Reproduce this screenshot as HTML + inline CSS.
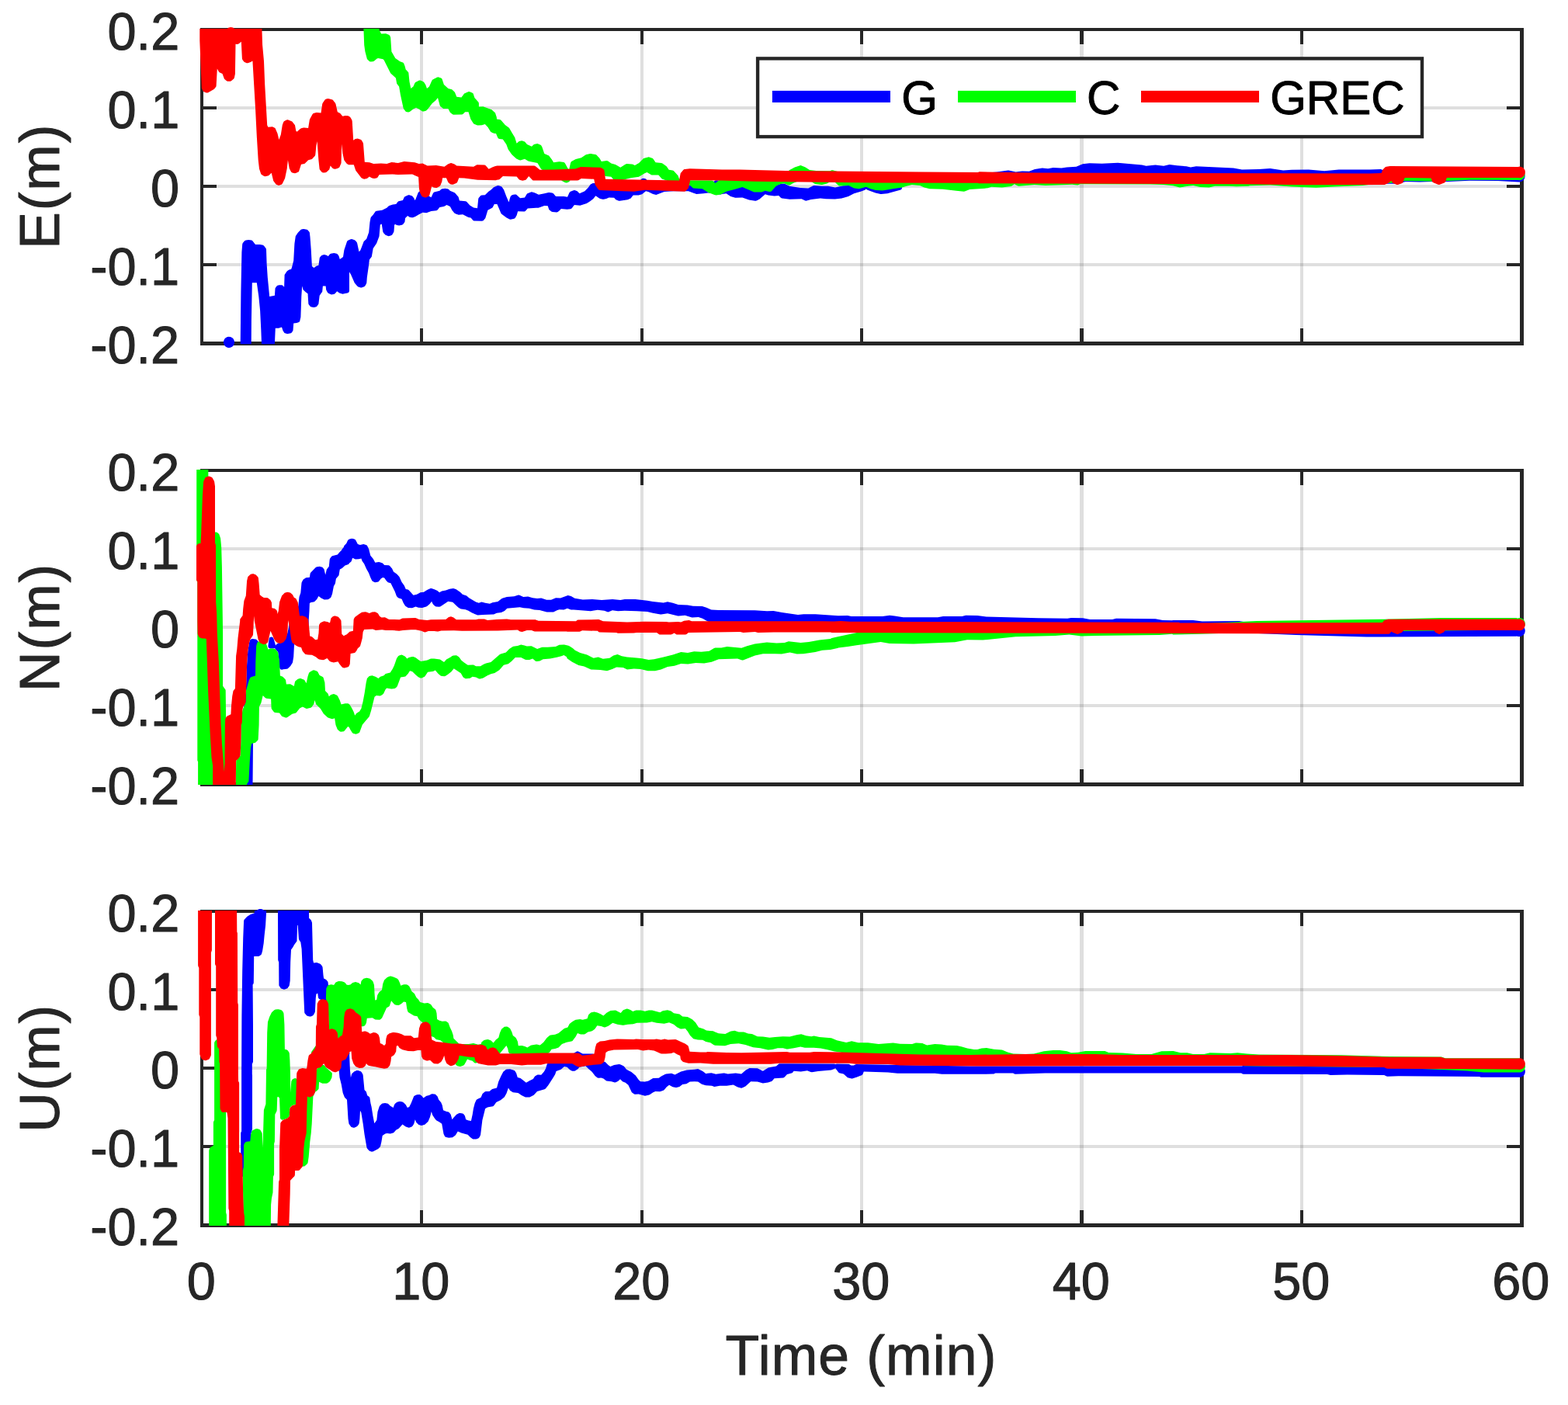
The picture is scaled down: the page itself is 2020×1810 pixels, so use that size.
<!DOCTYPE html>
<html lang="en"><head><meta charset="utf-8"><title>Positioning error convergence: E, N, U (G / C / GREC)</title>
<style>
html,body{margin:0;padding:0;background:#fff;}
body{width:2020px;height:1810px;overflow:hidden;}
svg{display:block;}
text{font-family:"Liberation Sans",Arial,Helvetica,sans-serif;fill:#262626;stroke:#262626;stroke-width:1.0px;stroke-linejoin:round;}
.tk{font-size:66.67px;}
.lb{font-size:71.50px;letter-spacing:1.1px;}
.lg{font-size:60.00px;fill:#000;stroke:#000;}
.grid{fill:#262626;fill-opacity:0.15;stroke:none;}
.frame{fill:#262626;stroke:none;}
.tick{fill:#262626;stroke:none;}
.b{fill:#0000ff;stroke:#0000ff;}.g{fill:#00ff00;stroke:#00ff00;}.r{fill:#ff0000;stroke:#ff0000;}
.c path{stroke:none;}
</style></head><body>
<svg width="2020" height="1810" viewBox="0 0 2020 1810">
<rect x="0" y="0" width="2020" height="1810" fill="#ffffff"/>
<g id="plot1">
<path class="grid" d="M541 40h4V440h-4ZM825 40h4V440h-4ZM1108 40h4V440h-4ZM1391 40h5V440h-5ZM1675 40h4V440h-4Z"/>
<path class="grid" d="M262 137H1958v4H262ZM262 238H1958v4H262ZM262 339H1958v4H262Z"/>
<path class="frame" fill-rule="evenodd" d="M258 36H1963V445H258ZM262 40V440H1958V40Z"/>
<path class="tick" d="M541 40h4v17h-4ZM541 440h4v-17h-4ZM825 40h4v17h-4ZM825 440h4v-17h-4ZM1108 40h4v17h-4ZM1108 440h4v-17h-4ZM1391 40h5v17h-5ZM1391 440h5v-17h-5ZM1675 40h4v17h-4ZM1675 440h4v-17h-4ZM262 137v4h17v-4ZM1958 137v4h-17v-4ZM262 238v4h17v-4ZM1958 238v4h-17v-4ZM262 339v4h17v-4ZM1958 339v4h-17v-4Z"/>
<g class="c b">
<path fill-rule="evenodd" d="M1298.5 219.6L1284.2 221.6L1262.1 223.3L1260.8 224.1L1260.1 225.4L1260.1 233.2L1260.4 233.9L1261.5 235L1263 235.4L1599.9 235.4L1601 236.4L1602.5 236.8L1801.1 236.8L1810.7 234L1828.9 234.6L1843.7 234L1865.5 234L1893.1 232.8L1929.7 233.1L1957.2 234.4L1958.2 234.3L1960 233.8L1960.9 233.4L1962.4 232.3L1963 231.5L1964 229.9L1964.5 228L1964.5 227.1L1964.5 226.1L1964 224.3L1963 222.6L1962.4 221.9L1960.9 220.7L1960 220.3L1958.2 219.8L1957.2 219.8L1955.3 220L1954.4 220.3L1952.8 221.2L1783.3 222.1L1780.9 218.9L1780.2 218.5L1778.8 218.1L1764.8 218.5L1724.7 218.5L1706.2 220.3L1685.9 218.5L1664.2 218.8L1653.1 219.4L1636.3 217L1621.9 218.1L1600 218.5L1589 216.4L1541 214.3L1533.8 215.5L1528.4 214.3L1516.5 213.3L1506.6 212.1L1505.5 212.2L1499.1 213.8L1488.4 212.4L1476.6 213.8L1471.1 212.4L1440 209.8L1419.5 210.7L1403.6 210.3L1394.8 211.3L1386.5 214.7L1374.4 215.5L1367.4 216.4L1356.7 216.1L1350.1 217.3L1342.7 216.5L1333.1 218.1L1325.8 220.7L1316.9 220.4L1308.5 221.6L1299.5 219.6ZM330.8 364.3L333.3 382L335.1 400.1L336.3 424.5L337 443.3L353.9 443.3L354.8 422.7L358.9 422.7L363 421.4L364.5 426.1L366.5 428.9L368 429.6L369.9 429.9L370.8 429.9L374.7 429.3L375.4 428.8L376 428.2L377.5 425.7L378.2 416.6L382.2 416L384.5 415.3L385.8 414.4L386.2 413.8L387.4 408.4L388.3 382L389.2 368.6L390.5 373.3L394 376.4L396.5 378.3L397.3 390.8L397.4 391.6L397.9 392.4L399.9 394.9L401.3 395.5L404.2 395.9L406.7 395.5L408.2 394.8L410.4 391.6L411.7 380.7L415.2 375.8L415.9 368.6L419.6 368.6L420.2 373.4L422.1 376.9L422.7 377.6L423.4 378.1L426.9 379.6L430.1 379.1L431.3 378.6L434.2 375.3L437.2 377.6L441.4 378.8L446.2 377.7L447.7 377.6L449.1 376.8L449.8 375.5L450 374.7L450 350.3L452.2 354.1L456.8 364.5L460.2 368.6L461.4 369.4L464.6 370.6L465.9 370.4L469.3 369.2L470.4 368.2L471.9 365.5L472.3 364.3L472.8 357.6L475.2 340.7L475.9 334.5L478.8 330.8L480.7 319.9L485.1 313.5L488.5 304.5L489.8 289.6L491.7 288.4L493.3 298.5L494 299.9L496.6 302.8L499.8 304.1L500.4 304.2L501.7 304.1L504 303.3L505.2 302.5L507.1 299.3L507.5 298L508.1 289.6L509.3 289L511.2 289.9L512.3 290.2L514.3 290.4L517.8 289.8L519.2 289.1L521.4 285.9L522.1 281.1L525.1 278L527.6 279.8L530.4 280.3L531.9 280.2L535.1 279L539.7 276.2L544.5 273.8L549.4 274.3L555.5 271.9L562.3 271.3L563.6 270.4L566.4 267.1L572 266L572.9 265.6L575.5 264L579.8 265.9L582.5 271L585.4 274.4L586.6 275.2L590.7 276.7L596.2 276.2L602.4 279.6L603.4 279.9L606.5 280.4L609.3 283.7L609.9 284.2L610.7 284.6L620.9 284.7L621.8 284.6L622.6 284.2L625.3 281L628.4 270.7L633.6 268.1L634.4 267.6L634.9 266.8L636.8 263.1L640.4 263.1L642.6 267.9L645.3 274.5L646.2 275.8L652.6 280.6L656.5 282.5L657.8 282.8L662.2 281.8L663.6 281L665.7 277.2L667.1 272.3L675.5 272.6L676.3 272.2L677 271.7L679.8 268.6L690.8 267.8L693.3 267.8L694.4 267.6L701.3 264.9L705.7 265.2L707.3 270L710.3 272.5L711.8 273.1L717.2 273.6L718.6 273L721.1 271L722.8 269L730.6 269.7L735 269.2L735.7 269L736.9 268L739.9 264.1L747.3 264.8L755.9 262L760.6 259L764.2 256.2L767.4 252.2L772.1 255.6L773.2 256.1L776.4 256.8L777.7 256.8L781.1 256L784.5 254.5L791.1 254.8L793.4 257.3L797.2 258.7L798.5 258.8L808.6 257.3L812.6 255.6L815.7 251.5L822.6 251.5L823.5 251.3L827 250.2L828 249.6L832 246.3L835 247L841.2 250.1L845.3 250.9L855.8 247L867.7 246.3L886.9 246.3L892.9 248.5L897.3 249.9L906.2 249.3L912.2 248.5L920 249.3L920.9 250.4L921.6 250.8L923.1 251L927.4 250.4L928.7 250.5L930.1 250L935.6 249.3L941.2 252.9L947.2 254.7L948.2 254.8L956.4 254.5L964.8 257.5L972.8 258.7L973.7 258.7L974.6 258.4L978.6 256.4L985.8 250.2L989.6 251.4L997.6 252.4L1003.2 251.9L1005.9 254.7L1006.7 255.2L1007.6 255.5L1017.3 256.8L1032.6 256.2L1036.8 258.3L1038.2 258.7L1044.8 257.1L1056.9 255.4L1064 256.2L1075.7 256.6L1084.4 255.4L1093 252.9L1100.2 249.3L1108.8 246.7L1114.2 244.7L1115.4 243.9L1115.8 243.1L1116.3 243.9L1117.6 244.7L1127.8 248.4L1134.4 250.1L1135.4 250.1L1143.2 249.3L1152.2 246.7L1160.5 244.5L1161.6 243.4L1161.9 242.7L1161.9 241.2L1161.6 240.4L1160.5 239.3L1159 238.9L1118.6 238.9L1117.1 239.3L1116.5 239.7L1115.8 240.7L1115.2 239.7L1114.6 239.3L1113.1 238.9L1093.2 238.9L1086.1 239.3L1076 241.5L1067 239.8L1058.6 239.8L1049.1 239L1047.5 239.3L1041.3 242.4L1031 242L1017 239.8L1011 236.8L1010.1 236.5L1005.1 237.1L999.6 238.9L922.8 232.2L921.2 232.5L919.9 233.7L888.8 233.8L887.6 234.4L882.5 238.9L836.5 238.1L832.9 231.2L831.5 230.3L829 229.8L827.3 230.1L825.9 230.9L821.6 238.1L772.7 238.9L767.4 236L763.7 236L760.8 237.5L757.7 241.8L753.3 246.3L746.6 249.3L743.6 246.3L740.3 245.1L738.8 245.2L734.4 247L733.5 248.2L731 253.7L726.3 253L716.1 253L712.6 248.9L711.3 248.4L707.8 247.9L706.7 247.9L701.3 249.3L693.9 250.7L689.2 248.5L686 247.4L684.6 247.2L679.4 249.2L678.5 250.2L676 254.5L670.1 255.2L665.2 250.8L664.4 250.5L663.5 250.4L661.3 250.7L659.8 251.3L658.3 252.3L657.5 253.4L655.5 260.4L652.3 253L649.1 244.5L646.9 241.2L646 240.3L642.9 239.2L641.5 239.1L639.3 239.8L636 241.2L632.3 244.7L629.4 246.7L624.8 251.3L620.4 251.4L619.6 251.8L619 252.3L616.9 254.8L616.4 255.6L616.2 256.5L615 268.3L610.1 267.6L605.3 264.6L601.3 260.1L600 259.2L591.9 258.6L590.6 253.7L586.3 248.8L585.2 248L579.8 245.8L578.1 244.1L577.3 243.5L576.4 243.2L573.5 242.8L569.8 243.2L568.9 243.5L568.1 244.1L566.4 245.8L559.3 247.5L558.7 247.9L557.9 249L555.5 254.3L542.8 247L541.3 246.6L540.6 246.6L539.9 246.9L538.8 247.9L535.4 256.7L534.2 258L533.5 255.6L531.1 252.6L527.5 251.3L525.9 251.2L521.2 253.6L520.4 254.7L519 258L513.4 259.2L512.2 260.2L510.5 262.8L506 263.5L501.4 265L500.3 265.8L498.3 267.7L492.3 270.7L485.1 271.7L484.3 272L483.6 272.5L480.7 276.8L478.3 279.2L477.8 279.9L477.5 280.7L476.5 286.1L475.2 299.3L472.2 307.7L468.7 310.9L464.3 322.4L462.5 324.2L460.2 313.4L459.6 312.1L458.1 310.3L456.9 309.3L453.2 308L451.6 308.3L447.8 310.1L446.9 311.5L443.4 322.1L442 330.9L437.8 333.9L436.5 329.7L434.9 327.6L433.7 326.7L430.3 326.1L426.1 326.7L424.9 327.5L422.6 330.3L421.3 329.1L418.7 328.2L417.7 328L416.8 328.2L414.9 328.8L414.2 329.2L413.5 329.8L411.8 332.1L410.4 341.8L407.6 342.7L404.4 344.9L401.9 343L400.7 321.1L399.5 305.3L398.8 299.3L396.6 296.5L395.4 295.7L391.3 295.1L389.2 295.2L387.7 295.7L383.8 299.8L380.8 304.2L379.4 314L378.2 335.8L376.4 343L375.2 346.7L372.4 347.5L369.8 349.2L366.6 354L366.1 369.8L364.5 367.9L363.7 367.4L362.9 367.3L359.5 367.2L357 368.1L356.4 368.7L354.7 371.1L354.5 371.9L353.9 380.7L347.2 381.9L344.8 357.6L343.6 339.4L343 321.5L342.8 320.6L342.4 319.8L340.1 316.7L338.9 315.7L334.9 315.1L329 315.1L325.5 310.6L324.3 309.6L320.1 309.1L316.8 309.5L315.4 310L312.8 313.1L312.4 313.9L312.2 314.8L311.4 324.9L310.4 375.9L309.7 443.3L323.7 443.3L323.9 412.3L324.8 364.3ZM301.8 439.1L301.1 437.4L300.6 436.6L299.3 435.3L298.5 434.8L296.8 434.1L295.9 433.9L295 433.8L293.1 434.1L291.4 434.8L290.7 435.3L289.4 436.6L288.9 437.4L288.2 439.1L288 440L287.9 440.9L288.2 442.7L288.9 444.4L289.4 445.2L290.7 446.5L291.4 447L293.1 447.7L294.1 447.9L295 447.9L296.8 447.7L298.5 447L299.3 446.5L300.6 445.2L301.1 444.4L301.8 442.7L302 441.8L302 440.9Z"/>
</g>
<g class="c g">
<path fill-rule="evenodd" d="M487.3 75L493.5 76.2L494.7 77.4L503 93.9L503.6 94.8L509.9 100.5L511.2 107.7L514.1 111.4L516 122.4L519.5 138.8L519.9 139.9L522.5 143.5L523.2 143.9L524.1 144.2L526.3 144.4L527.8 144.1L532.4 140.6L536 138.8L539.6 140.6L544.2 143.5L545 143.6L545.9 143.5L548.6 142.7L549.3 142.3L550 141.8L553.1 138.1L556.7 133.3L561.4 129.2L564 126L566.7 135.9L567.4 137.1L570.5 139.4L571.3 139.9L572.2 140L577.4 140L579.8 144.8L582.6 147L583.5 147.5L584.4 147.7L595.1 147.6L596.4 146.9L599.2 144.3L603.5 144.3L606.4 153.6L609.7 158.7L610.3 159.4L614.4 161.3L615.7 161.5L620.7 161.3L624.8 160.1L628.4 163.7L632.1 169.7L634.7 171.2L637.4 172L639 172.1L641.2 177.2L642.1 178.4L643.6 178.9L647.8 179.5L652.3 186.1L654.7 192.4L659.5 199.2L665.3 204.4L669.1 206.2L670.5 206.4L676 204.7L680 207.3L681.1 207.8L692.4 209.9L696.6 216.9L697.3 217.7L703.7 222.8L705 223.4L713.2 224.8L724.8 233.5L728.2 235.2L729.5 235.5L730.9 235.2L732.9 234.2L734 233.2L736.9 226.2L748.8 221.8L771.1 220.3L780 226.9L787.4 227.7L789.6 230.4L790.9 231.4L800.3 232.2L801.3 232.1L812.6 229.2L823.1 227.7L830.5 223.3L833.5 222.1L839.4 225.4L848.3 225.5L852.8 230.6L861.8 233.7L874.4 239.3L875.8 239.6L889.2 238.9L892.1 241.8L893.3 242.5L904.8 243.3L912.4 247.9L920.4 251L922.6 251.6L928.5 250.4L935.6 246.7L946.1 244.1L956.4 241L963.4 244.1L971.4 247.4L972.6 247.6L980.2 247.6L981.1 247.4L985.8 245.8L991 247.1L992.6 247.1L994 246.2L999.7 239.8L1004.9 237.2L1010.1 236.3L1015.7 238.4L1016.6 238.6L1017.4 238.5L1022.2 235.8L1027.5 233.7L1044.8 233.7L1050 237.1L1058.1 238L1059.1 237.9L1065.2 236.4L1069 234.6L1075.9 235.1L1080.2 238.9L1081.6 239.6L1093.3 238.9L1099.8 242.2L1100.7 242.4L1106.5 243.2L1107.7 243.1L1115.8 240.7L1121.3 243.3L1128.2 245L1136.9 245.4L1150.4 243.2L1162.3 241.6L1167.8 239.8L1174.7 238.1L1185.1 238.9L1190.6 241.6L1197.6 243.3L1214.6 243.8L1231.9 245.8L1241.6 246.7L1242.9 246.5L1249.2 244.1L1268.8 242.8L1270 242.4L1272.5 242.2L1277.3 240.7L1290.9 241.5L1302.6 239.9L1303.9 239.3L1306.8 237.2L1311.2 239.4L1312.8 239.7L1332.7 238.1L1346.8 238.9L1381.2 237.7L1388.2 238.5L1391.8 237.2L1481.8 237.5L1499.1 238L1511.2 239.3L1519.9 241.4L1530.3 239.8L1537.2 238.9L1546.2 241L1557.6 241.5L1565.1 239.8L1584 239.8L1592.8 240.3L1608.4 239.8L1610.1 239.3L1636.6 238.6L1664.2 240.5L1695.4 241.7L1719.1 240.5L1755.6 239L1764.9 237.7L1801.3 235L1809.8 233.1L1843.6 233.5L1865.6 233.1L1893.1 231.7L1955.9 232.1L1957.2 232.2L1959.1 232L1960.9 231.2L1961.7 230.7L1963 229.3L1963.6 228.5L1964 227.7L1964.5 225.8L1964.5 223.9L1964.3 223L1964 222.1L1963 220.4L1961.7 219.1L1960.9 218.5L1959.1 217.8L1957.2 217.6L1955.3 217.8L1953.5 218.5L1952 219.7L1950.8 221.3L1783.2 224L1610.1 225.7L1609.1 225.2L1608.2 225.1L1262.7 225.1L1261.1 225.5L1259.9 226.7L1093.3 225.1L1072.8 219.2L1071.5 219.3L1069 220.2L1051.8 219.9L1043 219L1037.6 215.4L1032.8 213.4L1031.4 213.1L1023.8 215.6L1017.3 218.9L1013.6 221.6L954.4 225.1L927.5 231.8L926.4 232.3L921.4 236.1L918.4 233.1L916.9 232.6L882.6 232.2L875.1 230.7L873.5 226.3L867.8 219.9L866.5 219.4L861.7 218.8L859 214.8L858.3 214L853.4 210.6L852 210.1L844.6 209.2L841.5 204.7L840.8 204.1L836.6 202.5L835.7 202.3L834.8 202.4L829.1 204.1L823.1 209.9L817.9 212.9L814.6 211.6L813.7 211.4L807.7 211.1L806.8 211.2L805.9 211.6L799.3 215.8L793.8 212.4L792.9 212L787.4 210.6L783.3 207.4L781.7 207.1L774.8 208.1L772.3 203.7L768.3 199.5L767.1 199.1L761.2 198.1L760.2 198.1L754.8 199.3L748.8 203.2L741.8 205.1L736.6 207.8L736 208.3L735.1 209.7L733.2 218.1L731.7 217.3L728 210.5L727.1 209.4L726.5 209.1L721 208.2L720.2 208.2L713.2 209.2L710.9 205.4L707.1 200.4L701.3 198L698.4 189.5L697.3 187.6L696.8 187L696 186.5L692.4 185.1L688.8 185.7L688 186L687.3 186.5L685 188.8L679 186.1L676 182.5L675.2 182.2L672.3 181.3L668.7 182.1L665.6 184.7L663.2 176.9L659.7 171.3L655.9 164.7L650.8 160.9L645.1 154.6L643.8 154.1L640 153.5L639.8 151.1L638 145.5L633.7 141.6L632.7 141L622.3 137.3L616.9 137.6L616.9 133.3L616.5 131.8L611.4 126L609.6 120.5L609 119.9L608.2 119.4L605.3 118.2L603.7 118.1L598.1 120.6L594.4 125.4L588.3 124.8L586.1 119.3L585.4 118.3L582.2 115.2L577.4 113.9L571.9 109.1L569.5 101.7L568.9 101L568.1 100.6L564.4 99.3L562.8 99.7L557.1 102.8L556.3 103.9L553 111.4L550 113.9L548.3 109.3L546.2 106.1L545 105L541.3 103.5L540.5 103.5L539.6 103.7L535.2 105.9L534.4 107L532.4 111.4L529.3 113.9L527.5 105.3L526.3 93.6L525.5 92.4L522.7 89.6L521.5 84.9L520.2 81.8L519.7 81L519 80.4L515.4 79.2L509.3 75L504.4 66.5L503.2 48.7L503 47.8L502.1 45.7L500.8 44.7L497.1 43.2L491.1 43.4L488.6 38.5L488.6 37L468.4 37L469.2 58.1L470.4 66.6L472.9 76.1L473.5 76.8L476.2 79.2L477.8 79.5L480.3 79.3L481.3 79.1L482.1 78.6L485.6 75.6Z"/>
</g>
<g class="c r">
<path fill-rule="evenodd" d="M302.3 37L300.1 35.6L298.3 35.2L297.4 35.1L296.5 35.2L294.7 35.6L292.6 37L257.3 37L257.3 52.5L259.8 113.8L261.6 117.2L262.6 118.2L265.7 119.5L266.6 119.6L267.4 119.6L268.2 119.3L275.1 115.3L275.9 114.7L277.9 112.2L278.4 111.4L278.6 110.4L279.8 88.4L282.1 92.8L283.2 93.6L286.5 95L289 101.7L292.3 104.4L293.6 104.8L297 104.7L298.2 104L300.9 101.8L301.5 101L301.9 100.1L302.9 95.3L303.5 56.7L305.9 56.9L307.4 56.6L310.8 53.7L311.9 75.4L312.4 76.9L314.5 79.8L317.7 81.3L319.3 81.2L322.8 79.9L325.4 78.6L329 139.4L330.8 175.8L332.7 206.2L334 217.5L336 223.6L336.4 224.4L337.1 225L340.2 227.1L341.9 227.2L346 226.2L349.7 222.7L352.2 233L355.2 237.1L355.8 237.7L356.6 238.1L359 238.9L360.4 238.6L362.6 237.7L363.7 236.8L367.1 229.7L369.7 217.3L370.9 206.3L372.7 216.7L373 217.6L375.1 221.6L376.4 222.4L379.7 223.3L381.1 223.1L384.4 221.5L385 220.9L385.3 220.1L388 211.7L392.1 211L392.9 210.4L397.1 206.3L401.9 204.9L405.6 200.9L406.1 200.1L406.3 199.2L407.4 188.1L408.6 182L410.4 206.2L411.6 217.5L411.8 218.3L412.3 219.1L414.3 221.4L415.5 222.3L416.9 222.5L419.3 222.2L420.1 221.9L420.9 221.5L424.3 218.3L425.6 213.5L428.5 216.8L429.8 217.4L431.5 217.7L433.1 217.5L435.9 216.4L437.3 215.5L439.4 210.4L439.6 209.4L440.2 185.6L441.4 197.6L443.3 206.2L446.4 210.4L447.7 211.4L449.2 212.2L450.2 212.3L455.8 212.3L458.1 219.2L458.5 220L465.6 229.3L468.3 230.5L469.2 230.7L470.1 230.6L472.8 229.9L475.9 227.5L478.4 229.1L479.5 229.4L482 229.9L484.8 229.6L485.6 229.3L486.3 228.8L488.7 225.1L505.5 224.5L513.1 225.1L531.2 224.5L534.9 226.3L539.1 228.1L539.9 242.5L540.8 247.8L543.2 252.6L544.4 253.5L547.8 254.6L549.4 254.3L551.8 253L553.1 251.9L554.8 245.8L556.1 240.3L558.6 241.5L559.6 241.8L561.8 242L562.7 242L563.6 241.6L566.7 239.8L567.4 238.7L569.3 233.9L570.1 229.3L574.9 229.3L577.1 234.3L577.7 235.2L579.1 236.6L579.9 237.1L580.7 237.4L583.4 237.7L587.8 235.9L589 235L591.3 229.3L598.1 229.4L615.2 231.8L638 232.3L639 232.2L640 231.7L642.3 231.5L643.6 231.1L647.9 227L665.6 227.4L668.7 231.3L669.5 231.7L673.1 232.8L676.5 232.1L677.7 231.5L681.2 227L686.2 232.2L687 232.5L687.8 232.6L743.5 232.6L745.1 232.2L748.8 230L765.2 230.7L766.5 237.5L767 238.6L770.7 244.1L771.9 244.8L772.6 244.9L802.3 246.3L816.9 246.7L830.6 244.8L881.3 246.7L882.8 246.4L883.4 245.9L886.8 242.5L887.1 241.7L889.2 232.2L930.1 232.6L972 233.7L1127.9 235.4L1259.9 235.8L1260.8 236.2L1261.7 236.3L1600.4 237.2L1682.5 238.3L1782.6 238.1L1783.7 237.9L1788.3 236L1792.3 233.1L1794.3 235.8L1795.1 236.2L1799.5 237.9L1800.9 238L1805.8 236.3L1807.1 235.4L1809.8 229.1L1843.6 229.5L1845 233.6L1845.4 234.4L1846 235L1852.6 237.8L1854.1 238L1860.6 235.5L1861.4 235L1862 234.4L1862.4 233.6L1863.8 229.1L1955.7 229L1957.6 229.3L1959.5 229L1961.2 228.3L1962 227.8L1963.4 226.4L1963.9 225.6L1964.3 224.8L1964.8 222.9L1964.8 221L1964.7 220.1L1964.3 219.1L1963.4 217.5L1962 216.1L1961.2 215.6L1959.5 214.9L1957.6 214.6L1955.7 214.9L1790.7 214.1L1786 214.7L1785.1 215L1784.3 215.5L1781.4 218.5L1779.5 223L1764.8 223.4L1329.3 222.5L1261.9 221.3L1260.9 221.4L1259.9 221.9L1186.9 221.6L1011.8 219.9L953 218.5L930.1 218.5L888.6 217.3L882.2 218L881.5 218.1L880.2 219L876.7 223.3L875 232.5L780 230.7L778.5 219.4L778 218.6L777.4 218.1L774.8 216.3L773.2 215.8L748 215.1L746.7 215.4L741.3 217.6L713.2 218.5L695.4 218.8L690.3 214.4L689 213.7L688.3 213.6L640.6 213.6L638.1 214L634.7 215.3L629.6 217.8L625.7 213.3L624.2 212.4L614.7 212.3L613.9 212.5L610.1 214.8L588.3 213.5L585.5 211.6L581.3 210.1L580 210.2L577 211.4L572.5 214.8L561.9 213L550.6 213.5L544.5 210.6L539.7 211.1L534.4 209.3L520.7 208.1L519.7 208.2L512.9 209.9L504.4 209L498.3 211.1L490.8 210.5L481.3 211.1L476.1 209.3L469.8 208.7L468 185L467.6 183.8L465.7 180.5L464.5 179.7L460.7 178.4L457.7 179L455.2 180.7L453.7 155.9L453.3 154.6L451.6 151.5L450.7 150.5L448.6 149.2L444.8 149.1L441.4 149.7L438.2 146.1L437.3 145.5L434.8 144.3L432.5 133.9L431.9 132.8L428.8 128.8L427.7 128.2L423.9 127.2L422.5 127.1L420.2 127.6L418.8 128.3L415.7 132.8L415.2 134L413.5 145.5L408.6 144.9L407.5 145L403.7 146.1L402.5 147.2L399.1 153.5L398.8 154.5L397.1 164.9L392.2 164.4L391 164.5L388 165.3L386.8 166L382.5 169.8L381.3 168.6L380 161.3L376.3 156.5L370.8 154.3L369.1 154.6L365.9 156.3L365.1 157.5L363.8 161L361.8 173.4L359.4 180.1L357.5 172L354.6 165.3L353.5 164.4L350.9 163.2L345.4 163.7L344.2 161.3L341.2 109L340 78.7L338.1 57.9L337.4 37Z"/>
</g>
<text class="tk" transform="translate(231.2 63.7) scale(1 1.040)" text-anchor="end">0.2</text>
<text class="tk" transform="translate(231.2 164.8) scale(1 1.040)" text-anchor="end">0.1</text>
<text class="tk" transform="translate(231.2 265.9) scale(1 1.040)" text-anchor="end">0</text>
<text class="tk" transform="translate(231.2 367.1) scale(1 1.040)" text-anchor="end">-0.1</text>
<text class="tk" transform="translate(231.2 468.2) scale(1 1.040)" text-anchor="end">-0.2</text>
<text class="lb" style="letter-spacing:1.8px" transform="translate(75.8 239.8) rotate(-90) scale(1 1.000)" text-anchor="middle">E(m)</text>
</g>
<g id="plot2">
<path class="grid" d="M541 608h4V1008h-4ZM825 608h4V1008h-4ZM1108 608h4V1008h-4ZM1391 608h5V1008h-5ZM1675 608h4V1008h-4Z"/>
<path class="grid" d="M262 705H1958v4H262ZM262 806H1958v4H262ZM262 907H1958v4H262Z"/>
<path class="frame" fill-rule="evenodd" d="M258 604H1963V1013H258ZM262 608V1008H1958V608Z"/>
<path class="tick" d="M541 608h4v17h-4ZM541 1008h4v-17h-4ZM825 608h4v17h-4ZM825 1008h4v-17h-4ZM1108 608h4v17h-4ZM1108 1008h4v-17h-4ZM1391 608h5v17h-5ZM1391 1008h5v-17h-5ZM1675 608h4v17h-4ZM1675 1008h4v-17h-4ZM262 705v4h17v-4ZM1958 705v4h-17v-4ZM262 806v4h17v-4ZM1958 806v4h-17v-4ZM262 907v4h17v-4ZM1958 907v4h-17v-4Z"/>
<g class="c b">
<path fill-rule="evenodd" d="M351.9 835.5L353.4 835.3L354.1 835L354.6 836L358.2 840.1L359.4 851L360.1 860.1L360.6 861.5L361.8 862.6L363.3 862.8L364.9 862.2L369.3 861.8L370.6 861.4L374.2 858L376.7 854L377.1 852.9L378.2 846L378.9 832.7L380.3 823.1L381.7 824.8L383 825.6L384.6 825.7L385.3 825.4L396.7 815.7L397.2 815L397.6 814.3L397.7 798.9L398.5 786.9L398.9 777.1L400.7 775.9L404 775.6L405.2 774.9L408.2 771.9L410.4 768L413.8 770.6L417.8 772.5L422.6 772.2L425.4 770.4L426.1 769.7L426.6 768.9L428.1 764.7L429.9 755.2L431.7 752.1L432 751.1L432.9 745.5L436.5 741.2L437.8 733.4L440.7 732.1L444.5 728.5L448.9 726.9L449.5 726.3L450 725.4L452.6 723.2L454.2 718.8L457.9 720.5L462.1 720.3L465.4 719.5L466.7 722.9L469.1 726.3L472 732.8L475.1 738.2L477.4 744.3L479.1 747.7L479.9 748.7L482.3 750L483.6 750.3L487.4 749.4L488.4 748.6L490.7 745.6L493 743.9L495.2 744.5L497.6 748L499.8 750.3L503.4 751.3L505.7 756.1L508.6 761.7L510.9 768L513.1 770.2L517.6 771.8L519.7 776.8L521.7 780.1L522.6 781.1L525.8 783.1L531 783.3L535.5 781.5L539 782.7L543.9 782.9L544.9 782.8L549.1 781.6L550.1 781.1L553.6 778.1L556.1 774.7L557.6 778L558.2 778.8L560.6 781.1L562 781.5L565.8 781.7L566.8 781.6L567.6 781.2L577.3 774.7L583.2 775.8L590.3 782.6L593.2 784.2L594.2 784.5L599.7 785.2L603.4 786.7L607.2 789L611.5 791.1L615.3 792.5L622.1 791.9L634.8 791.6L636 791.4L639.9 789.7L645.9 789.1L650 786.9L653.3 783.7L669.7 782.2L674.5 783.3L681.7 783.7L688.1 785.6L695.1 785.9L704.5 788.6L713 788.5L717.5 786.2L720.5 785.2L726.4 785.4L730.9 783.7L735.6 785.4L736.7 785.6L739.1 785.6L760.9 787.2L769.9 785.8L778.5 786.8L783.3 788.4L784.8 788.1L788.9 786.3L796.1 787.2L804.6 786.7L820.1 787.2L833.9 788L841 789.8L850.8 791.4L851.8 791.5L860 790.3L873.3 793.5L874.3 793.5L882.5 792.7L890.6 795.3L891.7 795.5L899.8 795L905 796.7L910.3 799.7L920 804.2L921.3 804.5L1069.9 806.1L1070.4 807.6L1070.9 808.2L1072.2 808.9L1073 809L1509.9 809L1510.7 810.5L1511.3 811.1L1512.8 811.6L1669.4 817.9L1760.6 820.6L1953.4 819.7L1954.3 819.5L1955.3 819.9L1957.3 820.1L1959.2 819.9L1960.2 819.6L1961 819.1L1962.6 817.9L1963.8 816.4L1964.2 815.5L1964.5 814.6L1964.8 812.6L1964.5 810.7L1964.2 809.8L1963.2 808.1L1961.9 806.7L1961 806.1L1959.2 805.4L1957.3 805.1L1955.3 805.4L1954.1 804.8L1953.4 804.7L1623.9 804.7L1596.3 800.1L1548.8 800.6L1537.1 799L1511.3 799L1509.9 799.3L1497.8 799L1488.5 797.2L1437.9 796.8L1433 797.9L1404.2 797.9L1395 796.3L1379.9 796.1L1375.1 796.8L1337.3 796.3L1270.6 794.6L1259.2 793L1244.2 792.8L1239.3 794.1L1215 794.1L1208.1 795.2L1163.6 795.2L1152.5 793.5L1146.1 792.8L1136.8 794.1L1096.8 794.1L1091.9 793L1079.9 793.2L1050.5 791.2L1035.2 791.2L1028 792L1017.6 790.6L1007.3 788.9L996.5 786.9L988.1 787.2L972.5 786.3L925.8 786L916.3 785.5L910.1 782.8L904.6 781.1L892.9 780.8L885.7 779.4L873.8 779L866.8 776.8L860 775.2L854.7 776.4L841 775.1L833.8 773.7L818.5 772.1L804.8 771.9L799.3 773L789.1 772.1L775.1 773L763.1 772L750.8 772.4L740.4 770.7L735.7 768L734.7 767.7L731.7 767.1L730.9 767.2L722 770.6L716 770.3L710 772.8L704.1 772.8L697.3 770.4L692.1 771L686.2 770.3L680.2 768.4L674.2 769.1L669.4 766.8L667.9 766.5L662.3 768.3L652.9 768.9L647.1 770.8L646.2 771.3L641.4 775L634.4 776.2L631 777.7L625.1 776.7L620.5 775.6L616.8 776.7L613.1 775.5L604.2 770.3L601.1 767.4L595.9 765.8L593.1 763L588.1 759.4L587.2 758.9L584 758L579.1 758.7L574.3 760.6L569.1 761.4L566.1 763.2L563.5 761.1L559.6 759.2L555.9 758.1L554.6 758.1L550.2 760L545.9 762.8L541.5 763.3L537 765.8L532.5 766.8L526.7 760.2L525.5 759.6L522.8 759.1L520.7 754.2L517.6 750.1L514.4 743.1L511.2 739.4L507.1 736.7L505.1 732.6L502.1 729L500.7 728.2L495.2 728L492.9 725.6L489.2 724.2L487.8 724.1L483.3 724.8L480.8 720L477.3 715.8L475.1 707.2L472.9 702.8L471.6 702L468.3 701L463.9 702.1L460.9 700.9L458 695.4L456.6 694.6L453.4 693.8L450.1 694.6L449.3 695L448.1 696.1L446.3 699.9L443.4 703L442.6 705.2L440.6 707.6L440 708.9L438.2 710.4L434.8 714.5L427.9 716.3L426.8 717.2L425.3 719.3L424.7 720.8L423.8 729.7L420.9 733.4L419.2 740.6L417.6 733.4L415.9 731.3L415.2 730.8L414.5 730.5L411.7 729.8L408.4 730.2L407.5 730.5L406.7 731L400.4 737.5L399.9 738.3L399.6 739.1L398.9 743.7L394.1 744.2L390.5 746.8L388.8 749.9L388.5 750.9L387.3 763.7L385.5 769L384.3 780.8L375.9 800L374.8 800.1L374.1 800.4L373 801.4L372.7 802L372.1 807.4L370.3 815.8L366.7 824.3L357.6 828.9L356.5 829.7L355.1 831.6L352.4 822.6L351.6 821.2L350.1 820.5L348.5 820.7L347.2 821.6L346.8 822.3L345.4 832.1L345.6 833.7L346.1 834.4L347.4 835.3L348.3 835.5L349.7 835.3ZM335 835.9L332.9 827L332.6 826.2L330.9 824.4L330.2 823.8L329.3 823.5L325.4 822.9L323.9 823.3L322.6 824L321.9 825.3L321.1 828.1L319.3 839L318.1 856L316.8 890L310.8 933.9L310.8 1010.9L325.5 1010.9L326 958L330.2 873L335 837Z"/>
</g>
<g class="c g">
<path fill-rule="evenodd" d="M1964.5 801.6L1963.8 799.8L1962.6 798.2L1961.9 797.6L1961 797L1959.2 796.3L1957.3 796L1954.9 796.4L1953.4 796L1856.2 796L1783.3 797.8L1619.4 800.1L1546.4 803.5L1512.3 804.6L1511.4 804.7L1509.9 805.8L1137.1 807.9L1079.2 820.3L1071.6 822.1L1069.6 823L1055.6 824.5L1042 827L1031.5 827.9L1015.9 826.2L1010.7 827.9L1000.4 828.4L987.9 827.4L972.4 829.4L962.3 832.2L955.3 834.8L936.7 833.1L929.3 834.5L921.5 834.5L919.9 834.9L913.7 838.8L903.4 839.7L894.2 839.2L886 840.9L877.3 840.1L866.8 843.5L854.8 846.4L842.7 849.2L835.7 849.9L827 848.3L820 847.5L807.9 846.4L801 845.2L796.8 843.4L795.5 843.1L791.1 844.2L790.2 844.6L785.4 847.8L776.8 848.7L770.7 846.6L764.7 847.8L756.2 843.6L747.3 840.9L740.4 837.4L739 835.9L737 834.5L733 832.1L731.2 831.4L726.9 830.5L726 830.4L720.5 830.7L715.9 832.9L705.6 833.7L698.6 833.7L697.6 833.9L692.1 835.9L684.6 832.3L678.7 832.5L675.6 831.4L671.2 830.5L666.8 831.9L661.4 832.8L660.3 833.3L656.1 836.1L651.8 840.4L645 842.4L643.9 843L632.4 853.1L626.1 854.4L622.6 856.1L619 858.3L613.1 858.3L610.9 856.9L610 856.5L609.1 856.4L602.6 856.8L598.2 853.8L594.4 850.8L591.4 846.4L588.5 844.6L587.7 844.3L584.1 844.5L582.6 845.1L580.2 846.8L575.1 849.4L572 853.1L566.8 849.4L559.2 848.6L555.5 848.6L554.3 848.8L550.4 850.4L542.2 851.9L539.1 850L535.9 847.4L535 846.9L532.5 846.1L531 846L527.8 846.7L526.8 847.1L524.3 848.6L522 845.7L518.7 843.9L517.2 843.6L514.2 844.5L513 845.2L511 848.3L507.8 857.6L505.6 862.1L502.7 866.5L496.7 868.1L494.5 870.2L490 871.8L487.4 873.9L484.3 871.9L479.5 870.3L476.7 870.8L475.9 871.1L475.2 871.6L472.9 874L471.6 879.8L469.8 891.9L467.6 903.7L465.4 912.7L463.1 916.5L459.9 918.4L459 919.2L457.2 921.7L455.6 917L453.5 912.8L451 908.4L449.4 906.8L448.1 906.2L444.7 906.3L439.6 907.6L437.7 901.9L434.9 896.4L433.7 895.6L430.8 894.3L429.9 894.1L428.9 894.2L426.3 894.9L423.8 897.2L422.5 893.6L419 889.9L418.4 879.3L416.5 872.8L415.3 871.7L411.7 869.9L409.3 865.5L408.1 864.6L405.1 863.5L404.2 863.3L403.3 863.4L402.5 863.7L398.7 866.1L397.9 867.3L396.5 871.6L394.6 880.2L392.7 876.8L392.1 876.1L391.3 875.6L387.3 874.1L386.4 874.1L383.7 874.8L380.4 877.6L379.9 878.8L378.8 883.9L374 881.3L368.9 881.4L368.1 876.3L367.8 875.4L367.2 874.7L364.2 871.8L360.9 870.5L360 851.2L358.1 840.2L355.3 836.7L354.1 835.9L349.7 835.3L345.4 836.5L342.9 829L342.1 827.7L340.7 827L335.1 825.9L333.1 826.5L331.9 827.2L331.2 828.4L330.2 832L329.3 852.2L329 870.5L323.4 872.3L322.3 873.3L321 875.7L317 889.6L316.6 904.5L312.4 915.1L312.2 915.9L310.8 933.8L310.5 952L309.6 973.7L304.9 979.1L304.2 980.3L303.8 1010.9L317.9 1010.9L318.1 1010L320.4 1006.6L321.7 982.3L322.9 964L324.1 958L329 956.7L331.8 954L332.6 952.7L333.6 933.8L333.9 910.6L336.4 905.4L338.7 896L341.7 899L342.5 899.5L343.4 899.8L349.1 900.6L349.6 912.1L349.8 913L350.2 913.8L353.1 917.4L354.6 918L360 918.5L363.1 922.7L367.8 924.6L369.2 924.5L369.8 924.2L373.9 921.6L376.4 919.7L380.3 918.8L381.2 918.4L381.9 917.7L386.1 912.4L389.8 910.6L393.7 912.6L395 912.9L400.3 911.8L401.4 910.9L404.3 906.9L405.6 902.1L406.9 906.9L412.9 913L416.9 919.4L422.1 924.2L423.2 924.8L427.7 926.2L429.1 926L431.1 925.2L432.5 934L434.8 939.7L437.4 942L438.9 942.7L442.8 942.2L444 941.3L448.1 936.1L449.7 936.7L451.2 939.7L454 944.3L455.4 945.1L458.6 945.7L461.9 944.6L463.2 943.5L466.9 933.6L475.8 923.1L478.1 915.6L482.5 897.8L484.8 896L489.6 896.5L490.9 896L493.1 894.5L494.1 893.4L496.7 888.1L498.2 886.6L504.4 887.4L508.2 887L509.4 886.4L511.1 884.9L511.9 883.7L516.1 872.5L521 871.8L522.3 871.4L525.6 867.9L528 864.2L531 865L535.4 869.3L538.9 872.2L541.7 873.4L543.3 873.6L547.3 871.6L551.1 865.7L557.3 865.1L558.3 864.8L560.8 863.5L564.4 867.7L567.6 870.4L568.3 870.8L569.2 871L572.7 871.3L573.6 870.9L577.1 868.8L581.5 865.2L584.7 861.3L593.7 867.2L596.7 872.4L598.8 873.8L599.7 874.2L600.6 874.3L605.6 873.8L608.6 871.7L613.1 872.5L617.2 874.4L618.6 874.4L622.4 873.4L627.9 870.3L632.4 868.3L636.4 867.3L637.3 867L643.2 863.2L648.9 856.8L654.8 855.2L659.2 851.7L663.8 847.1L671.2 847.1L676.6 849.8L677.9 850.1L682.1 849.9L686.2 848.6L690.3 851.9L691.1 852.1L692 852.1L695.5 851.4L699.6 849.3L708.7 848.5L717.4 846.8L723.3 845.3L726.4 844.1L730 846.3L730.2 847.3L730.6 848.1L731.3 848.7L737.1 852.8L745.3 856.9L752.5 858.6L760.7 862.3L761.8 862.6L773.2 863.1L782 864.2L788.7 862.1L794.2 859.6L802.8 860L808 862.4L816.7 861.4L825.3 862L834.4 864.3L844 864.3L851.5 862.5L860 859.1L868.9 857.8L877.3 855.1L886.3 855.6L896.3 853.9L907.1 854.4L916.8 852.7L925.9 849.2L950.1 848.4L955.9 850.4L957.3 850.5L972.6 844.4L983 842.3L998.6 842.3L1006.9 842.6L1017.6 840.6L1026.7 842.6L1035.1 842.3L1050.4 840.1L1059.2 837.8L1069.8 837L1078.8 835.1L1080.1 834.5L1092.3 833.1L1103.4 831.3L1134.6 826.9L1146 829.1L1177 829.5L1230.2 827.3L1246 824.2L1266.2 824.6L1308.4 820.2L1359.5 819.1L1377.4 817.5L1393.2 819.5L1410.8 819.1L1493.2 817.9L1510 816.8L1511.3 817.5L1512.1 817.6L1546.5 816.7L1601.1 814.9L1953.4 811.5L1954.2 811.4L1955.3 810.8L1957.3 811L1959.2 810.8L1961 810L1962.6 808.8L1963.8 807.3L1964.5 805.5L1964.8 803.5ZM254.4 979.9L255.1 981.2L255.1 1010.9L275.2 1010.9L274.3 970.2L269.4 800L268.3 605.1L253.2 605.1L253.2 746.8L253.5 748.2L254.3 749.2L254.3 978.9ZM281.1 1001L282.4 1001.7L283.2 1001.8L288.2 1001.7L289.5 1000.9L290.3 999.6L290.5 998.9L291.1 982.3L291.1 924L290.7 889.7L290.6 888.8L290.1 887.9L287.1 883.8L287.1 816L285.9 729.7L285.2 705.3L284.1 693.6L282.5 688.7L282.1 687.9L281.4 687.2L279.8 686L278.5 685.5L277.8 685.5L275.7 686.1L274.9 686.5L274.2 687.1L272.1 692.7L271.9 693.8L271.9 705.4L274.3 921.5L280.2 999L280.6 1000.4Z"/>
</g>
<g class="c r">
<path fill-rule="evenodd" d="M1964.7 803.9L1964.5 802.9L1963.8 801.1L1962.6 799.6L1961.9 798.9L1961 798.4L1959.2 797.6L1957.3 797.4L1955.1 797.7L1953.8 797.4L1788.2 797.8L1783.7 798.9L1782.6 799.8L1780.9 801.9L1520.1 802.4L1518.8 801.8L1518.1 801.7L1094.5 800.8L1083.2 800.1L1074.5 800.6L1059.2 800.2L891.2 800.2L887.7 799L881.2 799.8L877.3 801.4L873.6 801.1L861.8 801.4L858.1 801L830.6 800.7L807.9 801.4L776.9 800.2L772.1 798.3L771 798.1L745.1 798.4L743.6 798.8L742.1 800.2L693.7 799.8L689.6 798.3L688.6 798.2L657.9 798.2L653 797.4L640 797.9L628 798.9L624 797.6L623 797.4L616.4 797.4L613 798.2L587.8 798.2L584.3 795.4L581 794.3L580 794.4L578 794.9L574.3 797.9L555.1 798.2L550.4 798.9L540 797.9L536 796.3L534.9 796.1L519.6 796.4L518.6 796.6L514.6 798.2L501.2 797.9L495.9 795.3L491.5 795.6L489.2 794.1L486.9 790.2L486.2 789.7L483.2 788.3L479.3 788.6L478.3 788.9L475.8 790.1L472 788.5L470.6 788.2L466.1 788.7L462.3 791.2L457.2 794.9L455.9 797.3L455.6 798.5L454.9 812.8L450.5 813.7L446.7 817.2L444.1 818.5L442.8 819.3L440.3 816.8L439.5 799.8L438.6 797.9L435.9 794.8L432 793.4L430.7 793.5L428.7 794.2L426.4 796.6L425 802.6L422.3 801.3L417.7 800.3L416.9 800.5L413.3 802L412.3 802.9L411.1 805.1L410.5 815.7L409.2 823.7L406.2 824.3L401.9 820.2L399.3 819.4L397.2 798.8L396.8 797.6L394.5 795.2L393.4 794.5L389.8 793.2L386.1 793.5L383.8 776.4L383.5 775.5L381.7 771.9L381.2 771.1L378.8 769.8L377.3 766.7L376.6 765.8L373.9 763.6L370.3 762.8L366.7 763.8L363.1 767.4L360.1 775.6L358.8 786.8L357.6 791.1L357.1 787.8L356.8 786.9L356.3 786.1L353.9 783.9L350.3 783.2L349.9 775.9L348.4 772.9L345.6 770.7L344.8 770.2L343.8 770.1L339.9 770.1L337.5 768.6L334.7 766.2L333.6 751.7L332.8 744.6L332.5 743.7L332 743L329.6 740.4L326.7 739.3L325.2 739.2L323 739.8L322.3 740.3L319.9 742.5L319.4 743.1L319.1 743.9L318.1 748.2L316.8 767.4L314.4 773.9L313.2 784.3L312.6 792.9L309.7 797L309.3 797.8L309.2 798.7L309.2 800.1L306.5 821.9L305.3 836.4L304.1 845.1L302.9 886.9L300.5 890L299.2 897.1L298 909.3L297.4 920.3L292.3 922.7L291.5 923.7L290.2 926.4L289.9 933.7L289.5 982.3L288.7 994.5L287.7 979.9L285.9 958L284.6 933.7L281.8 852.3L279.8 816L279.2 790.5L278.2 775.8L278 702.3L277.7 701.2L277 699.2L277 626.6L276.2 620.9L275.9 619.8L273.7 615.8L272.7 614.8L269.2 613.6L267.9 613.7L265.8 614.4L264.5 615.3L262.4 619.8L262.1 620.8L260.9 638.6L259.1 688.4L258.5 699.9L256 700.3L254.7 701L253.6 702.2L253.2 703L253 704L253 746.7L253.4 748.2L254.3 749.2L254.3 800L254.6 816.4L254.9 817.6L256.2 820.2L257.1 821.3L260.3 822.6L263.4 822.5L265.8 823.1L268.2 892.4L270.7 945.8L272.5 976.1L274.1 986L274.1 1010.9L303.8 1010.9L304.1 979.9L307.4 977.1L309.1 974.5L309.6 973L310.5 952L310.8 933.8L311.8 930.7L312.2 915.5L313.2 910.6L315.8 906.7L316.4 905L316.6 904L316.9 890L317.5 879L318.1 855.9L319.3 839L321.1 828L322.3 823.8L325.5 818.9L326 817.4L327.2 793.6L327.8 800.1L332.6 823.8L334.5 827.6L335.5 828.6L338.9 830L340.3 830.2L343.3 829.1L344.5 828.3L345.2 827L348.5 812.8L353.7 824.4L354.3 825.3L356.4 827.4L357.7 828.2L360.9 829L362.2 828.8L365.4 827.3L368.2 823.6L368.7 822.5L370.3 816.1L371.2 799L372.8 807.3L375.2 824L376.1 827.1L376.5 827.9L377.2 828.5L381.5 831.7L384.6 833.2L388 834L389.6 838.4L390.1 839.3L393.2 842.7L393.9 843.1L396.9 843.6L401.9 843.8L406.8 846.2L409.9 848.7L411.2 849.4L416.2 850.3L417.4 850L421.4 848L424.4 851.5L425.1 852.1L426 852.5L429.9 853.4L435.4 852.3L437.4 855.5L440.7 859.6L442 860.3L443.7 860.6L448.5 859.2L449.2 858.6L449.7 857.9L450 857L450.6 856L450.8 855L451.6 841.9L455.9 841.3L457.4 840.7L459.2 838.4L460.9 835.2L463.7 832.8L464.1 831.9L465.3 827.7L466.8 821.9L467.6 814.3L469.1 811L480.2 810.5L484 811.9L492.2 811.3L496.9 812L505.6 812L514.2 812.7L519.1 812L529.5 811.3L535.5 811.3L542.9 812.8L546.3 814.2L547.8 814.5L551.9 813.1L559.3 813.1L563.3 813.5L564.3 813.4L568.4 812.5L584.7 812.2L595.2 812.8L641.4 812.5L666.8 811.6L669.8 813.5L672.7 813.9L678.8 812L684.7 812L688.7 813.4L689.6 813.5L729.9 813.5L731 813.7L746.6 813.7L748 813.3L750 812.3L769.9 812.8L771.3 814.2L772.8 814.6L794 814.9L795.9 815.7L796.6 815.8L816.4 815.4L820.2 814.9L846.1 814.9L848.8 816.9L849.6 817.4L850.6 817.5L864.3 817.5L865.9 817.1L868.6 815.4L870.4 816.8L871.6 817.4L883 817.5L884.5 817.1L886.9 814.9L953.5 814L957.5 814.9L972.6 814L976.5 814.9L996.9 814.6L1069.9 814.6L1071.6 815.1L1788.6 816.7L1790 816.4L1790.5 816L1792.4 813.8L1794.8 815L1799.3 816.7L1800.7 816.9L1806 814.8L1808.4 811.9L1847.1 811.9L1849.4 814.8L1852.7 816.6L1854.3 816.9L1859.5 814.8L1861.9 811.9L1954.5 811.9L1956.3 812.3L1958.3 812.3L1959.2 812.1L1961 811.4L1962.6 810.2L1963.2 809.5L1963.8 808.6L1964.5 806.8L1964.7 805.9Z"/>
</g>
<text class="tk" transform="translate(231.2 631.7) scale(1 1.040)" text-anchor="end">0.2</text>
<text class="tk" transform="translate(231.2 732.8) scale(1 1.040)" text-anchor="end">0.1</text>
<text class="tk" transform="translate(231.2 834) scale(1 1.040)" text-anchor="end">0</text>
<text class="tk" transform="translate(231.2 935.1) scale(1 1.040)" text-anchor="end">-0.1</text>
<text class="tk" transform="translate(231.2 1036.2) scale(1 1.040)" text-anchor="end">-0.2</text>
<text class="lb" style="letter-spacing:1.8px" transform="translate(75.8 807.9) rotate(-90) scale(1 1.000)" text-anchor="middle">N(m)</text>
</g>
<g id="plot3">
<path class="grid" d="M541 1176h4V1576h-4ZM825 1176h4V1576h-4ZM1108 1176h4V1576h-4ZM1391 1176h5V1576h-5ZM1675 1176h4V1576h-4Z"/>
<path class="grid" d="M262 1273H1958v4H262ZM262 1374H1958v4H262ZM262 1475H1958v4H262Z"/>
<path class="frame" fill-rule="evenodd" d="M258 1172H1963V1581H258ZM262 1176V1576H1958V1176Z"/>
<path class="tick" d="M541 1176h4v17h-4ZM541 1576h4v-17h-4ZM825 1176h4v17h-4ZM825 1576h4v-17h-4ZM1108 1176h4v17h-4ZM1108 1576h4v-17h-4ZM1391 1176h5v17h-5ZM1391 1576h5v-17h-5ZM1675 1176h4v17h-4ZM1675 1576h4v-17h-4ZM262 1273v4h17v-4ZM1958 1273v4h-17v-4ZM262 1374v4h17v-4ZM1958 1374v4h-17v-4ZM262 1475v4h17v-4ZM1958 1475v4h-17v-4Z"/>
<g class="c b">
<path fill-rule="evenodd" d="M340.5 1173.1L338.2 1171.6L336.4 1171.1L335.5 1171L334.5 1171.1L332.7 1171.6L330.4 1173.1L328 1173.1L327.8 1176.2L322.7 1178.1L318.4 1180.8L314.9 1184.5L314.5 1185L314.1 1186.4L313.2 1209L312.2 1250.3L311.4 1308.6L311.1 1384L311.1 1457.4L310.5 1458.5L310.2 1459.8L310.2 1512.9L310.6 1514.4L311 1515L311.7 1515.5L313.2 1515.9L320.7 1515.8L321.4 1515.5L322.5 1514.4L322.9 1512.9L322.9 1470.2L323.5 1459.9L325 1454.6L325 1385.2L324.8 1383.9L324.8 1370.7L325.7 1368.8L326 1367.5L326 1322L325.6 1268.6L326.4 1267.6L326.8 1266.1L327.2 1232.1L333 1231.9L333.8 1231.7L334.6 1231.3L336 1230.3L336.9 1229.2L338.1 1224.9L339.7 1214.9L340.6 1205.3L342.1 1192.1L343 1176.2L343 1173.1ZM359.5 1269.7L361.3 1272.6L361.9 1273.3L362.8 1273.7L365.8 1274.7L367.1 1274.5L370.2 1273.3L370.9 1272.6L372.7 1269.7L373.7 1263.5L374.2 1239.4L375 1223.6L377.5 1220.1L378.8 1217.5L382.4 1212.6L382.5 1211.7L383.1 1192L383.7 1192L384.9 1209.4L385.4 1210.9L387.3 1213.8L388.6 1222.4L392.2 1304L392.4 1304.9L392.9 1305.8L395.3 1308.5L398.5 1309.6L399.8 1309.6L400.5 1309.4L402.7 1308.5L403.9 1307.6L405.6 1304.3L405.9 1303.2L406.8 1285.6L407.4 1280.7L409.2 1279.5L410 1285L410.2 1285.8L411.2 1287L422.2 1291.4L432.4 1322.1L437.2 1357.8L436.8 1358.6L436.7 1359.5L436.7 1379.6L437.5 1388L439.7 1396.8L441.7 1408L444 1413.7L447 1416.8L448.5 1441.6L449.5 1447.8L452.3 1451.7L453.6 1452.3L455.1 1452.7L456.4 1452.7L457.1 1452.4L459.7 1451.2L460.8 1450.2L462.1 1448.4L462.7 1447.1L463.4 1441.6L464 1430.8L465.3 1433.3L467.7 1447.8L469.5 1461.2L472.4 1478L473 1479.4L475.6 1482.4L478.8 1483.7L479.7 1483.6L480.5 1483.4L486.7 1480.2L487.5 1479.7L490 1476.9L491.4 1471L492.7 1462.9L496.3 1460.5L498.7 1460L502.9 1460.5L507.1 1459.2L510.2 1455.7L513.8 1453.8L518.5 1448.4L522 1451.1L522.9 1451.6L525.7 1452.6L527 1452.7L529.9 1451.8L530.8 1451.3L531.5 1450.6L533 1448.2L533.4 1447.3L534.8 1442.3L536.1 1445.4L536.8 1446.4L539.4 1448.9L543 1449.9L547.3 1448.7L551.1 1445.2L551.8 1444.2L554 1439L555.8 1432L557.2 1436.6L560.3 1441.3L562.1 1443.2L562.9 1443.8L566.1 1445.4L569.2 1447.8L571.5 1460.7L572.8 1463.5L573.3 1464.3L574 1464.8L574.8 1465.1L578.1 1465.8L583.1 1465.3L586.4 1462.7L587.1 1462L589.8 1457.5L594.3 1459.4L602.6 1461.8L605.8 1464.9L608.5 1467L609.3 1467.4L610.3 1467.6L613.5 1467.5L616.2 1466.5L616.8 1466.1L617.7 1465L618.8 1462.8L619.1 1461.9L621.4 1443L625.1 1428.3L628 1426.6L630.5 1425.9L635.1 1425.2L636.3 1424.2L639.3 1420L644.9 1417.2L649.3 1413.7L650 1412.9L652.5 1408.4L654.9 1401.5L657.2 1405.1L660.9 1407.3L667.5 1408.1L671.8 1411L675.9 1413.1L677 1413.4L682.3 1413.6L687.2 1411L687.9 1410.4L692 1405.9L701.5 1403.2L702.4 1402.8L703 1402.2L706.2 1398.3L712.8 1388.1L715.2 1384L716.5 1379.9L722 1377.9L722.9 1377.4L726.9 1374L730.6 1374.7L733.9 1377.9L736.5 1379.4L737.4 1379.8L738.3 1379.8L740.2 1379.7L741.7 1379.1L744.3 1377.3L745.1 1376.5L746.2 1374.7L754.4 1373.2L758.2 1377L762.6 1380.7L766.6 1386.1L769.7 1388.5L771.2 1388.7L774.5 1388.5L777.4 1389.6L781.2 1392.4L787.8 1393.3L791.9 1394.5L793.4 1394.2L796.3 1392.7L799 1390.3L802 1393.2L805.7 1394.8L809.4 1397.7L813.9 1407.3L816.7 1409.3L817.6 1409.7L818.6 1409.8L822.7 1409.6L830.9 1411.7L836.3 1410.5L837.3 1410.1L841.4 1407.3L844.3 1405.9L850.2 1406.3L854.7 1404.7L855.9 1403.8L859.1 1400L862.1 1397.7L866.6 1400.3L870.5 1400.9L871.5 1400.9L875.4 1399.9L879.2 1397L884.3 1396.2L888.8 1393.6L894.7 1393.3L899.2 1393.6L904.1 1396.7L909.2 1398.3L916.9 1398.8L920.3 1399.9L927.3 1398.8L936.2 1398.7L944.7 1397.4L950.3 1400.6L954 1401.6L955.4 1401.7L959.8 1399.8L960.6 1399.3L967.2 1393.2L975.8 1393.6L982.8 1395.6L989.5 1394.5L994 1393L994.8 1392.6L997.5 1389.2L1009.2 1388.6L1010.5 1387.8L1014 1384L1020.5 1382.3L1021.5 1381.3L1022.6 1379.7L1031.7 1380.5L1040 1379.2L1044.4 1381.1L1046 1381.3L1053.9 1380.1L1070.7 1378.5L1071.6 1378.3L1076.3 1376.2L1080 1381.3L1081.1 1382.3L1086.7 1383.5L1092 1388.3L1097.1 1389.6L1098 1389.6L1104.1 1387.5L1110.5 1385L1111.5 1383.7L1112.8 1380.6L1143.9 1381.4L1156.2 1382.7L1204.5 1382.8L1213.4 1383.7L1250.8 1383.8L1279.4 1383.6L1280.3 1383.5L1282.2 1382.4L1305.2 1382.4L1306.8 1383.5L1308.1 1383.8L1346.3 1382.4L1599.2 1382.4L1600.7 1383.4L1602.1 1383.8L1709.8 1384.1L1714 1385L1735.6 1384.5L1783.1 1385L1786.2 1386.5L1787.6 1386.8L1801.5 1386.3L1905.8 1386.9L1907.8 1387.7L1908.5 1387.8L1958.5 1387.7L1960.4 1387.2L1962 1386.3L1962.8 1385.6L1963.4 1384.9L1964.3 1383.3L1964.8 1381.4L1964.8 1379.5L1964.7 1378.6L1964.3 1377.6L1963.4 1376L1962 1374.6L1960.4 1373.7L1958.5 1373.2L1957.6 1373.1L1956.6 1373.2L1954.8 1373.7L1952.8 1374.9L1601.4 1373.1L1599.9 1373.5L1249.9 1373.5L1103.1 1371.1L1101.7 1371.4L1099.7 1372.4L1096.3 1372.4L1094.4 1371.2L1093.6 1370.8L1092.8 1370.7L1077.8 1370.6L1076.4 1371L1074.9 1370.6L1004.8 1370.2L1003.3 1370.6L1000.1 1373.6L989.7 1375.4L982.8 1379.7L975.8 1376.3L965.5 1376L960.5 1378.7L955.1 1383.5L947.7 1382.4L937.7 1383.5L933.1 1382.4L932 1382.4L922.1 1383.7L919.5 1382.9L916.4 1382.3L911.3 1382.7L909.6 1383.2L904.9 1379.8L900.1 1377.4L899.2 1377.1L894.7 1377.7L884.7 1378.4L877.2 1380.6L869.5 1384.4L865 1382.7L858.1 1383.6L857.2 1383.8L851.9 1386.5L848.7 1388.8L841.3 1388.9L835.4 1392.5L830.8 1393.6L825 1393.3L822.7 1391L818.8 1385.6L813.4 1380.9L807.1 1377.7L803.9 1373.8L802.8 1372.9L799 1371.3L797.4 1371.1L791.1 1372.1L786.3 1374L783.3 1371.7L779.6 1368.1L768.5 1365.1L765.6 1359.1L765.2 1358.4L764.5 1357.8L763.7 1357.5L762.9 1357.4L750.7 1357.6L745.5 1354.7L744 1354.3L742.6 1354.7L738.9 1357L735.8 1362.1L710.4 1364.9L708.9 1365.5L705 1370.6L704.5 1371.5L703.2 1376.2L700.9 1380.6L697.2 1384.7L693.7 1384.4L692.8 1384.5L692 1384.8L689.1 1386.6L686.8 1390L682.2 1392.2L677.9 1394.8L670.5 1388.9L666.8 1388.1L665.1 1382.5L663.6 1380.1L662.7 1379.1L657.1 1377.3L652.8 1377.6L652 1377.8L651.2 1378.2L648.3 1380.7L645.3 1386.5L642.2 1393.5L640 1401.4L634.1 1403L630.4 1405.9L626.3 1405.9L624.9 1406.2L621.6 1408.9L619.6 1413.8L614.5 1416.3L613.5 1417.2L611.7 1421.3L609.9 1428.2L608.7 1435.7L606.9 1444.1L603.7 1443.5L600.2 1442.3L598.9 1437.5L597.3 1435.3L596.1 1434.5L593.1 1433.9L591.5 1434.1L588.1 1435.7L584.4 1439.8L582.5 1442.3L580.7 1435.7L579 1433.5L577.9 1432.6L575.3 1432L571 1430.2L569.7 1423.8L568.2 1420.3L567.6 1419.5L565.2 1416.8L563.6 1412.6L560.9 1409.8L559.6 1409.4L557.3 1409.2L556.4 1409.3L555.6 1409.6L552.8 1411.1L549.6 1411.8L548.7 1412.2L545.5 1414.4L543.3 1411.7L541.2 1410.3L540.2 1410.1L537 1410.2L534.3 1411.4L533.2 1412.3L532.9 1412.9L529.7 1421L527.2 1425.9L524.8 1427.1L523.2 1423.9L522.6 1423.1L520 1420.4L518.5 1419.6L515.7 1419L514.5 1419L511.5 1419.7L509 1421.8L508.1 1423L506.6 1427.1L502.9 1424.7L499.8 1421.8L496.1 1421.1L492.9 1421.5L492.1 1421.8L489.5 1424.2L488.7 1425.4L486.5 1432.3L485.3 1442.9L482.3 1447.2L480.5 1438.1L478.6 1426.1L477.4 1421L476.4 1414.5L476.1 1413.7L475.7 1413L473.2 1411.3L471.8 1406.5L469.5 1404L467.7 1385.2L467.4 1384L465.8 1381.3L464.8 1380.3L461.4 1379.1L460.1 1379L459.4 1379.1L456.2 1380.4L453.7 1382.8L452.9 1384.2L451.9 1388.2L450.9 1377.9L450.1 1358.6L450.5 1357.1L450.4 1356.3L442.2 1322L437.1 1297.4L422.9 1268.6L422.5 1264.9L422 1264.2L420.1 1261.9L417.1 1260.6L416.5 1256.3L415.6 1246.3L415.1 1244.8L413.4 1242.5L412.8 1241.9L412 1241.5L408 1240.1L404.1 1240.5L403.2 1236.8L402 1188.8L401.7 1187.8L400.7 1185.3L398.1 1182.8L398 1173.1L358 1173.1L358.2 1236.4L358.4 1237.5L359.2 1239.4L359.4 1268.9Z"/>
</g>
<g class="c g">
<path fill-rule="evenodd" d="M419.9 1286.4L422.6 1297.7L423.9 1325.9L424.5 1327.1L430 1333.4L430.1 1341.4L430.4 1342.2L431.6 1343.3L433.2 1343.6L434 1343.4L437.7 1341L445.8 1344.5L447.2 1344.7L448.6 1344.3L449.6 1343.2L450 1341.8L450 1332.6L465.3 1322L466.1 1322.3L467.6 1322.2L469.6 1321.5L470.2 1320.9L471.7 1318.2L472 1317.3L472.8 1311.7L479.8 1311.3L483.5 1313.6L488.5 1313.8L489.8 1313.4L491.5 1312.1L492.3 1311L498.1 1298.3L500.6 1297L501.8 1296L504.1 1289.2L506.1 1291.8L508.2 1293.9L509.4 1294.6L510.1 1294.8L512.9 1295L513.8 1294.9L514.7 1294.5L517.2 1293L520 1290.4L523 1291L524.2 1299.1L525.1 1302.5L525.9 1303.9L533.3 1308.6L537.6 1309.3L539.2 1312.5L539.7 1313.2L542.1 1315.6L544.3 1316.9L555.6 1334.9L557.1 1335.6L558.8 1336L561.9 1338.9L567.4 1340.3L581.9 1351.2L586.6 1370.3L586.9 1371.2L587.5 1371.9L589.3 1373.2L592.9 1373.9L596.6 1372.8L597.9 1372L600.1 1368.3L602 1364.6L605.2 1365.8L608.7 1366.8L611.2 1369.3L612 1369.6L613.4 1369.6L614.7 1369L619.6 1364.6L628.9 1359.1L640.8 1359.1L642.1 1358.8L643.2 1357.9L652.4 1346.9L654.2 1350.9L655 1355L655.3 1355.8L655.8 1356.5L656.4 1357L657.2 1357.3L664.2 1359L702.3 1359.1L703.1 1359L707.6 1356.1L710.6 1351.7L715.3 1350.9L719.5 1349.4L724 1345L729.9 1342.8L736.2 1341.5L737.5 1340.9L741.6 1335.6L744 1330.9L747.2 1332.2L748.3 1332.4L752.6 1332.4L753.9 1332.1L757.4 1329.4L761.9 1328.5L763.1 1328L765.9 1326L766.6 1325.2L769.3 1321.2L774.5 1322L777.8 1323.3L779.3 1323.5L783.7 1321.8L789.3 1317.8L795.5 1319.8L802.2 1320.7L803.1 1320.7L808.7 1319.7L815.7 1319.3L820.5 1317.8L833.6 1317.5L839.8 1316.3L846 1317.8L855.7 1318.7L856.6 1318.6L862.1 1317.2L868 1319.8L872.2 1323.2L876.1 1325.3L877 1325.6L877.8 1325.6L882.9 1325L885.9 1328.7L889.1 1334.1L893.3 1338.2L899 1339.5L905.2 1339.8L909.3 1341.9L915.2 1343.3L919.7 1346.3L921.2 1346.8L933.7 1347.3L934.8 1347.1L941.2 1345.1L951.6 1344.2L960.3 1345.9L970.3 1349.3L979.4 1350.3L989.2 1352.4L990.2 1352.5L995.1 1351.9L1001.9 1350.3L1008.8 1350.3L1013.4 1351.5L1014.6 1351.5L1022.7 1350.2L1031.3 1348.5L1036.8 1349.7L1048.5 1349.7L1057.2 1350.6L1065.9 1352.3L1074.8 1354.6L1083.3 1355.8L1100.8 1358.9L1249.9 1365.4L1251.3 1366.2L1252.2 1366.3L1599.9 1366.3L1600 1370.2L1600.4 1371.6L1601.5 1372.7L1603 1373.2L1783.2 1375L1851 1377.7L1889.4 1379.5L1911.5 1381.4L1958.5 1381.5L1960.4 1381L1961.2 1380.6L1962 1380L1963.4 1378.7L1964.3 1377L1964.8 1375.2L1964.9 1374.2L1964.8 1373.3L1964.3 1371.4L1963.4 1369.8L1962 1368.4L1961.2 1367.9L1959 1367.1L1958.9 1365.5L1958.2 1364.1L1957.5 1363.6L1956 1363.2L1862 1363.2L1856.9 1361.6L1856 1361.4L1790.5 1361L1728.2 1359.2L1622 1358.5L1606.4 1357.6L1594.3 1356.2L1585 1357.1L1558.8 1356.2L1551.2 1358L1537 1358L1529.4 1356.2L1520.9 1356.2L1511.6 1353.9L1496.4 1354.2L1483.4 1358L1463.9 1358L1446 1356.5L1428.3 1356L1423.4 1354.1L1422.3 1353.9L1398.2 1353.9L1388.9 1355.7L1380.1 1356.2L1374.4 1354.2L1365.6 1353L1356.8 1353L1344.7 1354.2L1331.9 1357.4L1321.2 1358L1305.3 1357.4L1298.1 1355.6L1291.5 1352.7L1290.5 1352.4L1280.4 1351.7L1270.9 1350L1264.5 1350.6L1259.1 1352L1254.8 1352L1246.1 1350.6L1239.3 1348.5L1232.7 1346.9L1220.2 1346.8L1213 1345.4L1204.3 1345.1L1194.2 1346.4L1189.4 1344.4L1188.5 1344.1L1181 1343.4L1179.7 1343.5L1175.1 1345.1L1159.6 1344.7L1150.5 1343.4L1131.8 1345L1118.1 1343.3L1105.8 1343.3L1097.1 1341.3L1090.2 1343L1078.1 1340.2L1071.6 1337.4L1070.7 1337.2L1055.6 1336L1048.6 1334.4L1045.2 1335.2L1038.3 1334.3L1032.2 1332.2L1026.2 1333.3L1017.4 1335.5L1008.6 1335.2L998.5 1335.9L991.4 1336.7L982.9 1335.5L975.8 1335.2L969.4 1332.3L968.4 1332L963.7 1331.5L959.1 1329.7L957.9 1329.5L951.6 1329.5L946.4 1327.8L941.6 1328.5L940.8 1328.8L934.3 1332.1L925.7 1331.2L920.1 1329.1L918.7 1328.3L914.7 1328L910 1327.4L906.4 1325.6L900 1323.5L896 1317.3L892.1 1313.4L891.4 1312.9L886.3 1310.3L885.3 1310L879.2 1309.4L875.4 1306.5L868 1305.3L864.8 1302.8L863.7 1302.2L859.9 1301.3L855.1 1301.9L854.2 1302.1L850.2 1304.2L840.1 1301.5L835.8 1301.5L830.9 1302.7L825.4 1301.5L820.2 1301.5L819.3 1301.6L815.3 1303L812.1 1301.1L808.9 1299.8L807.5 1299.6L802.8 1301.3L799.7 1304.9L793 1301.6L786.4 1302L781.5 1304.7L777.4 1308.6L773.6 1306.3L769.6 1304.4L765.6 1303.5L761.1 1304.5L758.2 1307.2L756.6 1312.3L750.7 1313.8L748.3 1313.2L747.2 1313.1L741.7 1313.7L740.5 1314.2L737.2 1316.2L733.7 1319.1L731.4 1323.5L727.4 1324.8L726.5 1325.2L719.5 1330.9L715.1 1332.7L709.3 1333.4L708.4 1333.7L707.7 1334.2L704.5 1337.1L700.2 1342.8L695.7 1346.5L691.8 1345.6L690.7 1345.5L684.5 1346.4L683.3 1346.9L679.4 1349.5L676.1 1347.9L672.4 1347L667.8 1347.2L666.9 1341.7L664.9 1337.4L664 1336.4L660.8 1333.9L659.3 1329.2L657.1 1325L654.4 1323L653 1322.4L649.8 1322.8L646.1 1325.8L643.9 1330.7L642.3 1336.8L638.8 1339.6L635.6 1343.5L632.6 1340.6L629.4 1339.2L628.1 1338.9L624.4 1339.7L623.2 1340.2L620.5 1342.5L620.1 1343.3L620 1344.7L619.5 1345.1L616 1345.7L609.9 1344L603.8 1345.1L591.7 1345.1L584.4 1337.8L583.7 1333.3L582 1328.3L579.6 1323.3L577.6 1317.8L574.9 1315.7L573.5 1315.4L569.7 1315.7L566.1 1314.7L563.1 1312.9L562.5 1305.3L561.5 1301.6L561.2 1300.8L560.6 1300.2L557.6 1297.7L555.1 1294.1L551.8 1292.3L550.9 1292L546.7 1292.6L541.2 1291L539.1 1287.7L536.4 1284.9L533.9 1280.1L530.3 1277L529 1273.9L527.2 1270.4L525 1268.8L524.2 1268.4L523.3 1268.3L520.5 1268.3L519.4 1268.5L516.3 1269.7L515 1265.9L513.1 1262.1L512.5 1261.4L511.8 1260.8L507.5 1258.7L503.3 1257.5L502 1257.7L498.9 1259.1L495.1 1262.5L493.2 1267.6L492 1275.2L488.7 1277.9L488.1 1278.7L486.5 1281.4L486.1 1282.5L485.2 1288L483.2 1288.6L482.5 1279.4L482 1269L480.7 1264.9L480 1263.8L476.7 1260.8L472.5 1259.8L469.2 1260.4L468.4 1260.8L466.1 1263L465.6 1263.7L465.3 1264.5L464.6 1268.5L462.2 1266.2L458 1265L454.3 1265.9L451.3 1268.5L448.5 1268.9L446.4 1268.6L444.6 1265.9L443.3 1265.2L440.5 1264.2L436.7 1264.1L435.5 1264.3L432.5 1265.6L430.1 1268.9L426.9 1268.2L423.1 1269.1L421.9 1270.3L420.3 1273.4ZM417.9 1363.2L418.7 1362.9L419.8 1361.8L420.2 1360.3L420.2 1341.2L420.1 1340.4L419.3 1339.1L418 1338.3L417.2 1338.2L416.4 1338.3L415.1 1339L407 1346.7L401.4 1354.7L400.9 1356.1L400.9 1356.8L401.1 1357.6L402 1358.8L407.2 1362.7L408.1 1363.2L409 1363.3ZM397.7 1490.3L399.3 1470.9L400.7 1459.9L401.7 1447.8L403.4 1412.5L406.2 1406.5L407.6 1405.7L409.8 1403.7L410.6 1402.4L411.1 1393.7L415.3 1395.7L420.4 1395.8L421.3 1395.6L422.2 1395.2L425 1393L427.2 1388.7L427.5 1387.7L427.9 1383L427.3 1381.7L419.6 1374.9L418.3 1372.8L416.8 1372L415.2 1372.1L414.4 1372.5L409.6 1375.8L408.9 1376.5L396.1 1393.9L395.7 1394.8L383.8 1430.5L377.7 1479.2L377.6 1499.7L378 1501.2L378.5 1501.9L379.1 1502.3L380.6 1502.7L389.6 1502.7L391.3 1502.6L392.2 1502.4L392.9 1501.9L395.6 1499.6L396.1 1499L396.6 1497.7ZM316.4 1471.2L315.5 1472.2L314.5 1473.8L314.1 1475.4L313.8 1503.6L312.6 1509L313.8 1579.1L348.8 1579.1L349.1 1552.3L349.9 1543.9L351.5 1536.2L351.9 1515.9L352.8 1514.1L353.1 1512.7L353.1 1473.4L353.9 1470.4L354.3 1435.7L356.4 1431.4L356.7 1430.1L357.2 1413.8L358.2 1412.8L360 1414.4L361 1439.9L361.1 1440.7L362 1442.1L363.5 1442.8L365.1 1442.6L369.8 1440.7L370.8 1440.1L372 1438.9L372.7 1437.6L372.8 1436.9L373.4 1427.1L376.4 1424.1L381.8 1422.7L382.4 1422.4L383.4 1421.3L383.7 1419.9L383.7 1392.4L383.3 1390.9L382.9 1390.3L381.1 1389.2L380.2 1389.1L379.4 1389.3L377.4 1390L376.4 1391L375.3 1393.1L374.2 1407.6L374 1384L373.4 1365.8L372.8 1356.9L372.3 1355.4L370.5 1352.9L369.1 1352.2L366.9 1351.8L366.4 1319.7L365.5 1305.8L365 1304.3L363.7 1302.3L363.2 1301.8L361.9 1301.1L358.8 1300.3L357.6 1300.2L354.8 1300.6L353.3 1301.3L350.8 1303.4L350 1304.3L347.3 1309.7L345 1316.4L344.2 1330.6L343.6 1376.6L343.1 1377.6L343 1378.5L342.4 1422.2L339.9 1430L338.5 1478.7L337.7 1460L335.7 1456.2L335.2 1455.6L333.8 1454.8L331.2 1454.1L329.9 1454.1L325.3 1456.2L324.7 1456.8L324.4 1457.6L323 1462.1L322.3 1470.3L317.7 1470.7ZM270.6 1478.6L269.4 1481.3L269.2 1482.4L269.2 1579.1L291.9 1579.1L291.9 1565L291.1 1562L291.1 1433.3L286.5 1384.1L286.5 1342L286.1 1340.5L285.6 1339.9L285 1339.4L283.5 1339L280.2 1339L278.8 1339.4L277.7 1340.4L276.6 1341.9L276.3 1342.7L276.1 1343.6L276.1 1442.9L275.2 1444.7L274.9 1446.1L274.9 1475.7L271.6 1477.7Z"/>
</g>
<g class="c r">
<path fill-rule="evenodd" d="M256.5 1308L257.3 1309.9L257.3 1357.9L257.5 1359L259.6 1364.1L260.9 1365L263.4 1366.1L265 1366.3L268.4 1365L269.6 1364.2L271.6 1360.3L271.9 1359L271.9 1227.3L272.6 1225.3L272.9 1224.2L273 1173.1L255.1 1173.1L255.1 1243.5L255.4 1244.9L256.3 1246.7L256.3 1306.9ZM1964.8 1369.6L1964.3 1367.8L1963.4 1366.1L1962 1364.7L1960.4 1363.8L1958.5 1363.3L1957.6 1363.2L1956 1363.4L1862 1363.4L1856 1361.8L1790.5 1361.8L1728.2 1359.9L1660.5 1359L1610.1 1359.3L1608.4 1358.9L1446.1 1358.9L1410.4 1358L1321.3 1358L1249.9 1358.9L1185.5 1358.6L1083.3 1355.4L1048.8 1355.1L1043.3 1355.8L1017.5 1355.8L1013.6 1355.1L955 1356.3L936 1356L911.3 1355.1L909.9 1355.4L902.2 1355.4L888.5 1354.7L886.9 1348.3L886.2 1347.1L882.6 1344.6L877 1342L871.7 1339.4L870.2 1339.1L860.6 1339.5L856.2 1338.4L851.7 1339.5L845.8 1338.4L842.7 1339.1L828 1339.1L819.5 1338.4L816 1339.1L795.1 1338.6L785.1 1339.5L778.9 1341L773 1341.4L769.4 1343.7L768.5 1344.6L768.2 1345.2L767 1348.9L765.5 1357.6L759.5 1358.8L750 1359.8L746.2 1357L745.3 1356.8L738.7 1356.4L698.8 1356.4L664.6 1357.3L643.8 1357.3L639.8 1351.7L639.2 1351.1L638.4 1350.6L635.8 1349.5L634.8 1349.3L633.9 1349.4L631.7 1350.1L630.7 1350.5L628.5 1352.2L627.5 1351.2L626.2 1348.6L625.3 1347.5L620.8 1345.8L612.3 1346.1L600.3 1345.7L592.6 1344.5L581.9 1344.5L569.9 1342.7L561.8 1342L556.4 1339.6L555.8 1335.3L555.2 1326.8L554.5 1320.8L552.1 1317.8L549.4 1316.6L548.5 1316.3L547.6 1316.4L544.9 1317L542.4 1319.1L541.6 1320.3L540 1324.8L538.8 1336.6L533.3 1337.2L530.5 1334.9L529.3 1334.3L521.2 1334.2L517.4 1332.3L513 1330.7L507.1 1330L506.1 1330L501.7 1331.2L499.4 1333L498.8 1333.6L498.4 1334.5L497.4 1338.1L496.8 1345.1L495 1346.9L492.3 1345L489.8 1343.9L489 1336.9L488 1333.9L487.6 1333L487 1332.4L485.2 1331.1L484.1 1330.6L481.1 1330.1L476.8 1331.7L474.1 1329.8L470.9 1328.6L469.3 1328.5L466.2 1329.3L465.3 1311L464.9 1309.6L462.4 1307L458.6 1304.4L455.5 1300.8L452.1 1299.5L451.3 1299.3L448.1 1299.9L446.8 1300.5L444.4 1303.8L443.3 1310.1L442.6 1323.2L440.9 1333.6L438.1 1335.2L435.4 1337.8L434.7 1330.6L432.9 1327.7L432.2 1327L431.4 1326.5L427.8 1325.3L426.4 1325.4L424.1 1326.3L423.1 1292.9L421.4 1289.6L420.3 1288.5L416.8 1287.3L415.9 1287.2L415 1287.3L411.5 1288.5L410.5 1289.6L408.7 1292.9L408 1319.5L407.3 1321.5L407 1322.6L406.8 1347.5L405.6 1351.1L400.8 1357.2L398.5 1359L397.7 1360.1L396.5 1365.9L395.3 1375.5L394.6 1376.7L389.8 1375.9L386.1 1376.9L384.8 1377.7L382.6 1381.5L382.2 1382.9L381 1422.9L376.5 1424.2L373.7 1426.9L373.3 1428.3L372.8 1438.1L370.3 1440.5L364.3 1443L361.9 1445.8L361.3 1447L360 1480.7L360 1519.4L359.1 1522.4L357.4 1579.1L372.3 1579.1L373.7 1537.8L374 1520.7L379.5 1514.9L379.9 1513.5L380.1 1508L384.1 1508L385 1507.8L385.8 1507.5L389.2 1503.5L389.7 1502.7L389.9 1501.8L390.8 1490.4L391.2 1480.6L392.2 1471L394.7 1459.7L395.3 1430.8L395.9 1412.5L397.5 1413.3L398.9 1413.6L400.3 1413.3L402.9 1411.8L403.7 1411.2L404.2 1410.5L405.9 1407L406.2 1405.9L407.4 1394.4L408 1377.3L409.2 1376.1L412.5 1375.2L413.4 1374.8L414.1 1374.1L417.1 1370L419.7 1374.8L425 1377.9L428.1 1380.3L431.2 1381.3L432.7 1381.3L436.5 1379.5L437.6 1378.5L439.5 1375.5L440.2 1367L444.7 1365L445.8 1364.2L448 1359.9L449.8 1357.2L450 1355.6L452.5 1354.2L453.2 1363.7L455.3 1370.1L455.9 1371.1L458.1 1373.7L459.2 1374.6L462.8 1376L466.7 1375.8L467.6 1375.6L468.4 1375.1L470.7 1373L471.9 1370L473.6 1372.1L474.8 1372.7L478.4 1373.6L483.4 1374.3L488.4 1375.5L493.9 1376.6L494.9 1376.7L498.1 1376.3L499.5 1375.7L502.2 1372.4L503.5 1367.1L504.1 1361.5L507.2 1359.5L508.1 1358.5L510.2 1354.8L510.8 1347.5L512.7 1346.9L514.5 1349.9L518.4 1352.2L525.7 1354.1L532.9 1354.2L538.2 1353L542.4 1353L543 1360.3L543.3 1361.4L544.8 1364.2L545.8 1365L548.8 1366.3L549.7 1366.6L550.7 1366.5L554 1365.8L558 1369.6L559.3 1370.3L563.9 1370.4L564.9 1370.2L568.1 1368L568.9 1367.1L570.9 1363.6L572.2 1359.7L573.4 1365.5L575.4 1369.9L579.4 1372.8L580.8 1373.3L582.2 1373.1L585.5 1371.8L588.4 1368.5L590.9 1363.7L591.7 1359.7L602.5 1361.5L611.1 1362.1L612.5 1366.9L613.1 1367.6L616 1369.9L620.9 1371.1L628.7 1372.4L638.8 1372.5L639.8 1372.3L643.8 1371L658.5 1371L672.3 1372.4L679.5 1371.7L696.9 1371.7L703.3 1370.3L737.3 1370.3L742.2 1373.3L745.5 1374.5L747 1374.6L753.7 1373.2L761.1 1372.2L774.4 1370.9L777.4 1368.7L778 1367.9L778.4 1367L779.6 1362.3L780.4 1356.1L783.4 1353.9L790.9 1352.4L821.9 1352L827.4 1353.3L828.5 1353.4L835.4 1352.4L842.7 1353.5L847.2 1355.4L851.1 1357.3L852.4 1357.6L857.8 1357.6L864.7 1356.9L868 1355.8L872.3 1358.3L876.2 1359.9L876.8 1364.1L877.1 1365L877.7 1365.8L880 1367.9L887 1369.7L902.3 1369.5L918.9 1370.7L993 1370.7L1003.6 1369.8L1093.6 1369.8L1102.5 1370.7L1143.9 1371L1159.6 1372.4L1204.6 1373.1L1259 1373.6L1260.1 1373.5L1599.9 1372.9L1601 1373.1L1783.1 1375L1786.2 1376.5L1787.6 1376.8L1911.4 1377.2L1955.8 1377.7L1957.6 1377.9L1958.5 1377.8L1960.4 1377.3L1962 1376.4L1963.4 1375L1964.3 1373.4L1964.8 1371.5ZM278.4 1334.7L279.2 1336.7L279.8 1348.3L280.6 1349.6L282.2 1351.3L282.5 1368.4L283.1 1370.1L283.5 1428.3L284.8 1431.1L285.4 1431.9L286.1 1432.4L287.4 1432.9L288.1 1433L290.1 1432.6L292.5 1433.2L293.5 1440.6L294.4 1556.7L295.2 1559.7L295.2 1579.1L315 1579.1L315 1567.2L314.1 1562L313.2 1540.2L312.2 1489.7L312 1488.6L310.9 1485.9L310.3 1485.4L308.1 1484.2L308.1 1395.4L307.8 1394.1L307.1 1393.1L306.9 1384L306.9 1294.5L306.2 1291.6L305.9 1202.4L305.8 1201.7L305.3 1200.4L305.1 1173.1L277 1173.1L277 1241.8L277.4 1243.3L278.2 1244.3L278.2 1333.6Z"/>
</g>
<text class="tk" transform="translate(231.2 1199.7) scale(1 1.040)" text-anchor="end">0.2</text>
<text class="tk" transform="translate(231.2 1300.8) scale(1 1.040)" text-anchor="end">0.1</text>
<text class="tk" transform="translate(231.2 1402) scale(1 1.040)" text-anchor="end">0</text>
<text class="tk" transform="translate(231.2 1503.1) scale(1 1.040)" text-anchor="end">-0.1</text>
<text class="tk" transform="translate(231.2 1604.2) scale(1 1.040)" text-anchor="end">-0.2</text>
<text class="lb" style="letter-spacing:1.8px" transform="translate(75.8 1375.8) rotate(-90) scale(1 1.000)" text-anchor="middle">U(m)</text>
</g>
<text class="tk" transform="translate(259.2 1673.5) scale(1 1.040)" text-anchor="middle">0</text>
<text class="tk" transform="translate(542.2 1673.5) scale(1 1.040)" text-anchor="middle">10</text>
<text class="tk" transform="translate(826.2 1673.5) scale(1 1.040)" text-anchor="middle">20</text>
<text class="tk" transform="translate(1109.2 1673.5) scale(1 1.040)" text-anchor="middle">30</text>
<text class="tk" transform="translate(1392.8 1673.5) scale(1 1.040)" text-anchor="middle">40</text>
<text class="tk" transform="translate(1676.2 1673.5) scale(1 1.040)" text-anchor="middle">50</text>
<text class="tk" transform="translate(1959.2 1673.5) scale(1 1.040)" text-anchor="middle">60</text>
<text class="lb" transform="translate(1109.5 1770.6) scale(1 1.000)" text-anchor="middle">Time (min)</text>
<g id="legend">
<rect x="976.1" y="75.4" width="855.9" height="100.7" fill="#ffffff" stroke="#262626" stroke-width="4.4"/>
<rect x="994.9" y="116.9" width="152.1" height="15.1" fill="#0000ff"/>
<text class="lg" transform="translate(1161.3 147.3) scale(1 1.020)">G</text>
<rect x="1234" y="116.9" width="152" height="15.1" fill="#00ff00"/>
<text class="lg" transform="translate(1400 147.3) scale(1 1.020)">C</text>
<rect x="1470" y="116.9" width="152" height="15.1" fill="#ff0000"/>
<text class="lg" transform="translate(1636.2 147.3) scale(1 1.020)">GREC</text>
</g>
</svg></body></html>
